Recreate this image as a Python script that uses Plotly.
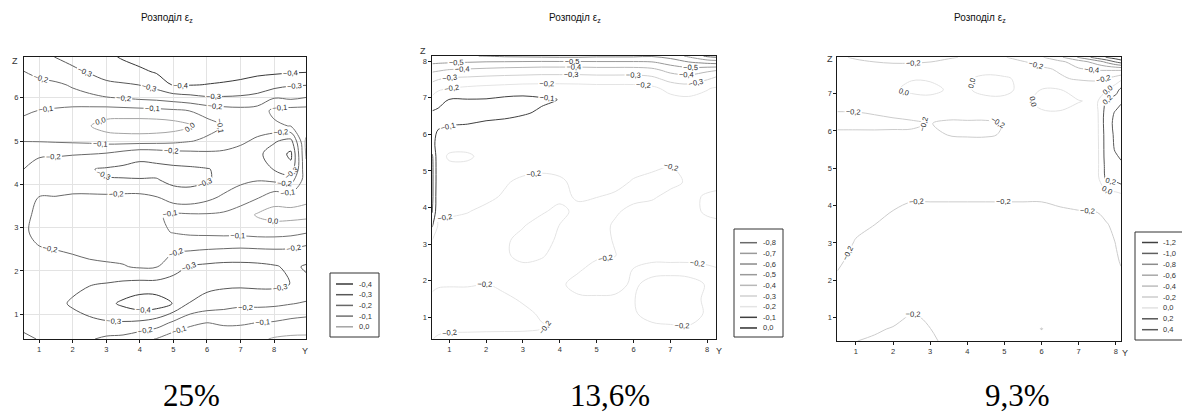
import plotly.graph_objects as go

# ---------------- Panel 1 (25%) ----------------
P1_Y = [0.55, 1.0, 1.5, 2.0, 2.5, 3.0, 3.5, 4.0, 4.5, 5.0, 5.5, 6.0, 6.5, 7.0, 7.5, 8.0, 8.5, 8.95]
P1_Z = [0.43, 0.8, 1.25, 1.7, 2.1, 2.5, 2.9, 3.3, 3.7, 4.1, 4.35, 4.7, 5.0, 5.35, 5.7, 6.0, 6.3, 6.6, 6.94]
P1_EPS = [
    [-0.18, -0.205, -0.215, -0.22, -0.21, -0.18, -0.17, -0.13, -0.095, -0.04, -0.03, -0.05, -0.05, -0.04, -0.02, 0.01, 0.02, 0.02],
    [-0.23, -0.24, -0.25, -0.27, -0.28, -0.29, -0.29, -0.28, -0.25, -0.18, -0.12, -0.098, -0.11, -0.11, -0.098, -0.09, -0.07, -0.06],
    [-0.25, -0.26, -0.28, -0.31, -0.34, -0.37, -0.42, -0.46, -0.455, -0.395, -0.295, -0.26, -0.24, -0.22, -0.225, -0.22, -0.205, -0.19],
    [-0.25, -0.26, -0.27, -0.28, -0.295, -0.305, -0.32, -0.33, -0.33, -0.33, -0.34, -0.33, -0.32, -0.32, -0.325, -0.325, -0.298, -0.28],
    [-0.24, -0.24, -0.235, -0.225, -0.215, -0.21, -0.205, -0.19, -0.195, -0.27, -0.305, -0.32, -0.33, -0.33, -0.325, -0.31, -0.28, -0.31],
    [-0.23, -0.205, -0.199, -0.19, -0.18, -0.175, -0.17, -0.165, -0.17, -0.18, -0.19, -0.199, -0.205, -0.21, -0.205, -0.201, -0.205, -0.23],
    [-0.21, -0.18, -0.17, -0.165, -0.16, -0.155, -0.15, -0.14, -0.12, -0.095, -0.08, -0.075, -0.07, -0.07, -0.06, -0.06, -0.07, -0.09],
    [-0.22, -0.18, -0.165, -0.16, -0.155, -0.15, -0.145, -0.14, -0.11, -0.085, -0.09, -0.092, -0.085, -0.05, 0.01, 0.035, 0.035, 0.03],
    [-0.22, -0.199, -0.198, -0.19, -0.185, -0.18, -0.175, -0.175, -0.195, -0.26, -0.27, -0.23, -0.18, -0.15, -0.11, -0.04, -0.05, -0.02],
    [-0.215, -0.22, -0.23, -0.24, -0.26, -0.295, -0.295, -0.295, -0.295, -0.32, -0.32, -0.31, -0.27, -0.22, -0.205, -0.22, -0.24, -0.05],
    [-0.201, -0.23, -0.245, -0.26, -0.295, -0.31, -0.32, -0.33, -0.325, -0.32, -0.315, -0.305, -0.28, -0.26, -0.26, -0.305, -0.37, -0.02],
    [-0.15, -0.19, -0.19, -0.195, -0.198, -0.21, -0.24, -0.27, -0.26, -0.24, -0.23, -0.22, -0.22, -0.24, -0.28, -0.34, -0.42, 0.01],
    [-0.098, -0.095, -0.09, -0.085, -0.08, -0.065, -0.06, -0.06, -0.065, -0.075, -0.095, -0.12, -0.15, -0.18, -0.22, -0.29, -0.33, 0.02],
    [-0.08, -0.07, -0.055, -0.035, -0.005, 0.045, 0.06, 0.065, 0.06, 0.045, 0.012, -0.06, -0.105, -0.13, -0.15, -0.12, -0.095, -0.06],
    [-0.11, -0.098, -0.085, -0.07, -0.065, -0.06, -0.065, -0.07, -0.075, -0.085, -0.102, -0.14, -0.16, -0.17, -0.16, -0.075, -0.06, -0.06],
    [-0.14, -0.15, -0.16, -0.17, -0.18, -0.195, -0.205, -0.22, -0.23, -0.25, -0.27, -0.29, -0.29, -0.285, -0.27, -0.205, -0.22, -0.198],
    [-0.17, -0.18, -0.185, -0.21, -0.24, -0.28, -0.29, -0.302, -0.34, -0.41, -0.405, -0.398, -0.39, -0.38, -0.36, -0.34, -0.31, -0.305],
    [-0.198, -0.22, -0.25, -0.28, -0.31, -0.34, -0.36, -0.38, -0.41, -0.43, -0.44, -0.44, -0.44, -0.43, -0.42, -0.415, -0.41, -0.405],
    [-0.27, -0.28, -0.302, -0.33, -0.36, -0.38, -0.41, -0.44, -0.46, -0.47, -0.47, -0.47, -0.47, -0.46, -0.46, -0.45, -0.45, -0.45],
]
P1_LEVELS = [-0.4, -0.3, -0.2, -0.1, 0.0]
P1_COLORS = ['#383838', '#585858', '#686868', '#707070', '#a4a4a4']

# ---------------- Panel 2 (13,6%) ----------------
P2_Y = [0.54, 0.7, 1.0, 1.5, 2.0, 2.5, 3.0, 3.5, 4.0, 4.5, 5.0, 5.5, 6.0, 6.5, 7.0, 7.5, 8.0, 8.24]
P2_Z = [0.41, 0.75, 1.1, 1.5, 1.9, 2.3, 2.7, 3.1, 3.5, 3.9, 4.3, 4.7, 5.1, 5.4, 5.8, 6.2, 6.6, 6.95, 7.25, 7.5, 7.75, 7.95, 8.14]
P2_EPS = [
    [-0.199, -0.205, -0.21, -0.212, -0.214, -0.215, -0.213, -0.21, -0.208, -0.21, -0.21, -0.21, -0.21, -0.21, -0.21, -0.21, -0.21, -0.21],
    [-0.19, -0.19, -0.19, -0.19, -0.19, -0.19, -0.192, -0.197, -0.205, -0.21, -0.21, -0.21, -0.21, -0.205, -0.203, -0.201, -0.21, -0.21],
    [-0.19, -0.185, -0.18, -0.18, -0.18, -0.185, -0.19, -0.205, -0.21, -0.21, -0.21, -0.205, -0.203, -0.19, -0.185, -0.19, -0.203, -0.21],
    [-0.19, -0.19, -0.185, -0.185, -0.185, -0.192, -0.205, -0.21, -0.21, -0.205, -0.205, -0.205, -0.201, -0.19, -0.185, -0.19, -0.205, -0.21],
    [-0.21, -0.203, -0.203, -0.203, -0.199, -0.21, -0.21, -0.21, -0.205, -0.19, -0.185, -0.19, -0.205, -0.19, -0.185, -0.19, -0.202, -0.21],
    [-0.22, -0.215, -0.215, -0.215, -0.21, -0.21, -0.21, -0.21, -0.205, -0.203, -0.19, -0.19, -0.201, -0.21, -0.21, -0.21, -0.205, -0.202],
    [-0.22, -0.215, -0.215, -0.215, -0.21, -0.205, -0.19, -0.197, -0.21, -0.21, -0.205, -0.201, -0.19, -0.19, -0.19, -0.19, -0.19, -0.19],
    [-0.205, -0.215, -0.215, -0.215, -0.215, -0.205, -0.19, -0.19, -0.205, -0.21, -0.21, -0.198, -0.185, -0.185, -0.185, -0.185, -0.185, -0.185],
    [-0.09, -0.21, -0.215, -0.215, -0.215, -0.21, -0.202, -0.185, -0.201, -0.21, -0.215, -0.195, -0.185, -0.185, -0.185, -0.185, -0.19, -0.19],
    [0.01, -0.19, -0.19, -0.198, -0.21, -0.21, -0.21, -0.205, -0.19, -0.21, -0.215, -0.205, -0.19, -0.185, -0.185, -0.19, -0.205, -0.21],
    [0.02, -0.18, -0.185, -0.19, -0.19, -0.205, -0.215, -0.215, -0.21, -0.195, -0.199, -0.205, -0.21, -0.205, -0.19, -0.19, -0.205, -0.21],
    [0.02, -0.17, -0.18, -0.185, -0.19, -0.195, -0.21, -0.215, -0.206, -0.19, -0.185, -0.19, -0.203, -0.21, -0.21, -0.195, -0.185, -0.185],
    [0.02, -0.17, -0.185, -0.185, -0.18, -0.18, -0.185, -0.19, -0.19, -0.185, -0.185, -0.185, -0.19, -0.195, -0.202, -0.19, -0.185, -0.185],
    [0.01, -0.17, -0.21, -0.21, -0.18, -0.18, -0.18, -0.18, -0.18, -0.18, -0.18, -0.18, -0.18, -0.185, -0.19, -0.185, -0.18, -0.18],
    [-0.06, -0.15, -0.165, -0.17, -0.17, -0.17, -0.17, -0.17, -0.17, -0.175, -0.175, -0.175, -0.175, -0.175, -0.175, -0.175, -0.175, -0.175],
    [-0.07, -0.09, -0.102, -0.105, -0.115, -0.125, -0.14, -0.155, -0.16, -0.165, -0.17, -0.17, -0.17, -0.17, -0.17, -0.17, -0.17, -0.17],
    [-0.09, -0.085, -0.08, -0.08, -0.08, -0.08, -0.09, -0.11, -0.13, -0.15, -0.16, -0.16, -0.16, -0.16, -0.16, -0.16, -0.16, -0.16],
    [-0.17, -0.13, -0.098, -0.097, -0.095, -0.08, -0.075, -0.088, -0.102, -0.13, -0.14, -0.14, -0.14, -0.15, -0.17, -0.18, -0.175, -0.17],
    [-0.25, -0.22, -0.199, -0.18, -0.17, -0.16, -0.15, -0.15, -0.15, -0.155, -0.16, -0.16, -0.16, -0.175, -0.23, -0.25, -0.205, -0.19],
    [-0.32, -0.302, -0.28, -0.27, -0.26, -0.255, -0.25, -0.245, -0.245, -0.245, -0.25, -0.25, -0.25, -0.265, -0.33, -0.35, -0.305, -0.26],
    [-0.42, -0.41, -0.39, -0.38, -0.37, -0.36, -0.355, -0.35, -0.35, -0.35, -0.355, -0.355, -0.355, -0.37, -0.43, -0.45, -0.42, -0.405],
    [-0.51, -0.505, -0.498, -0.49, -0.48, -0.475, -0.47, -0.465, -0.465, -0.465, -0.47, -0.47, -0.47, -0.48, -0.53, -0.58, -0.61, -0.62],
    [-0.58, -0.585, -0.59, -0.597, -0.602, -0.615, -0.62, -0.625, -0.63, -0.63, -0.62, -0.62, -0.62, -0.61, -0.64, -0.72, -0.82, -0.84],
]
P2_LEVELS = [-0.8, -0.7, -0.6, -0.5, -0.4, -0.3, -0.2, -0.1, 0.0]
P2_COLORS = ['#6a6a6a', '#9a9a9a', '#8a8a8a', '#9a9a9a', '#b8b8b8', '#d0d0d0', '#e4e4e4', '#404040', '#303030']

# ---------------- Panel 3 (9,3%) ----------------
P3_Y = [0.5, 1.0, 1.5, 2.0, 2.5, 3.0, 3.5, 4.0, 4.5, 5.0, 5.5, 6.0, 6.5, 7.0, 7.5, 7.75, 8.0, 8.14]
P3_Z = [0.375, 0.7, 1.0, 1.5, 2.0, 2.5, 3.0, 3.5, 3.9, 4.3, 4.7, 5.1, 5.5, 5.9, 6.2, 6.5, 6.8, 7.1, 7.4, 7.65, 7.85, 7.97]
P3_EPS = [
    [-0.21, -0.201, -0.19, -0.18, -0.17, -0.185, -0.22, -0.24, -0.24, -0.24, -0.24, -0.24, -0.24, -0.24, -0.24, -0.24, -0.24, -0.24],
    [-0.22, -0.215, -0.21, -0.195, -0.17, -0.199, -0.23, -0.245, -0.25, -0.25, -0.25, -0.41, -0.25, -0.245, -0.24, -0.24, -0.24, -0.24],
    [-0.23, -0.23, -0.225, -0.22, -0.19, -0.21, -0.235, -0.25, -0.25, -0.25, -0.25, -0.25, -0.25, -0.25, -0.245, -0.24, -0.24, -0.24],
    [-0.23, -0.235, -0.235, -0.235, -0.23, -0.235, -0.24, -0.25, -0.25, -0.25, -0.25, -0.25, -0.25, -0.25, -0.245, -0.24, -0.24, -0.235],
    [-0.21, -0.235, -0.24, -0.24, -0.24, -0.24, -0.245, -0.245, -0.245, -0.245, -0.245, -0.245, -0.245, -0.245, -0.24, -0.24, -0.23, -0.215],
    [-0.19, -0.22, -0.235, -0.24, -0.24, -0.24, -0.24, -0.24, -0.24, -0.24, -0.24, -0.24, -0.24, -0.24, -0.235, -0.23, -0.21, -0.195],
    [-0.17, -0.205, -0.23, -0.235, -0.24, -0.24, -0.24, -0.24, -0.24, -0.24, -0.24, -0.24, -0.24, -0.24, -0.235, -0.23, -0.198, -0.18],
    [-0.16, -0.185, -0.199, -0.22, -0.235, -0.24, -0.24, -0.24, -0.24, -0.24, -0.24, -0.24, -0.235, -0.23, -0.22, -0.205, -0.18, -0.16],
    [-0.15, -0.17, -0.185, -0.198, -0.22, -0.22, -0.22, -0.22, -0.22, -0.22, -0.22, -0.22, -0.205, -0.198, -0.195, -0.17, -0.15, -0.15],
    [-0.15, -0.16, -0.17, -0.175, -0.18, -0.18, -0.18, -0.18, -0.18, -0.18, -0.18, -0.18, -0.175, -0.15, -0.1, -0.08, -0.05, -0.02],
    [-0.12, -0.12, -0.13, -0.13, -0.13, -0.13, -0.13, -0.13, -0.13, -0.13, -0.13, -0.12, -0.11, -0.1, -0.06, 0.22, 0.25, 0.3],
    [-0.1, -0.1, -0.11, -0.11, -0.11, -0.11, -0.11, -0.11, -0.11, -0.11, -0.11, -0.1, -0.1, -0.1, -0.05, 0.28, 0.33, 0.38],
    [-0.12, -0.12, -0.12, -0.12, -0.12, -0.12, -0.12, -0.12, -0.12, -0.12, -0.11, -0.1, -0.09, -0.08, -0.05, 0.3, 0.42, 0.45],
    [-0.17, -0.17, -0.175, -0.175, -0.18, -0.17, -0.205, -0.215, -0.215, -0.19, -0.12, -0.1, -0.1, -0.09, -0.04, 0.3, 0.44, 0.47],
    [-0.24, -0.24, -0.235, -0.23, -0.22, -0.195, -0.23, -0.23, -0.23, -0.195, -0.15, -0.08, -0.07, -0.07, -0.04, 0.32, 0.45, 0.48],
    [-0.205, -0.202, -0.19, -0.17, -0.15, -0.13, -0.13, -0.12, -0.12, -0.1, -0.05, -0.01, -0.005, -0.03, -0.03, 0.3, 0.42, 0.45],
    [-0.1, -0.1, -0.08, -0.06, -0.04, -0.03, -0.05, -0.06, -0.03, -0.03, -0.03, 0.03, 0.03, 0.005, -0.02, 0.22, 0.3, 0.38],
    [-0.1, -0.1, -0.08, -0.01, 0.02, 0.025, -0.01, -0.01, 0.03, 0.03, -0.03, 0.003, 0.005, -0.06, -0.04, -0.02, 0.12, 0.25],
    [-0.12, -0.13, -0.13, -0.1, -0.005, -0.01, -0.07, -0.02, 0.04, 0.03, -0.05, -0.12, -0.18, -0.22, -0.24, -0.19, -0.12, -0.05],
    [-0.12, -0.14, -0.15, -0.16, -0.155, -0.15, -0.13, -0.1, -0.06, -0.1, -0.13, -0.17, -0.22, -0.38, -0.42, -0.43, -0.44, -0.45],
    [-0.15, -0.18, -0.201, -0.21, -0.21, -0.202, -0.18, -0.16, -0.15, -0.15, -0.19, -0.26, -0.36, -0.5, -0.7, -0.85, -1.02, -1.1],
    [-0.18, -0.215, -0.23, -0.24, -0.24, -0.23, -0.21, -0.19, -0.18, -0.19, -0.27, -0.38, -0.56, -0.82, -1.1, -1.21, -1.3, -1.35],
]
P3_LEVELS = [-1.2, -1.0, -0.8, -0.6, -0.4, -0.2, 0.0, 0.2, 0.4]
P3_COLORS = ['#404040', '#606060', '#8c8c8c', '#a8a8a8', '#bdbdbd', '#cccccc', '#e2e2e2', '#555555', '#5a5a5a']

TITLE = 'Розподіл ε<sub>z</sub>'
PERCENTS = ['25%', '13,6%', '9,3%']

W, H = 1182, 412
FONT = 'Liberation Sans, Arial, sans-serif'
LABEL_COLOR = '#2a2a2a'
# plotly spaces contour labels by (plot diagonal) / (number of levels in the trace / 10);
# extra levels far outside the data range add no lines but allow denser labels
LABEL_SLOTS = 110
SLOT_STEP = 5.0


def fx(p):
    return p / W


def fy(p):
    return 1 - p / H


def fmt(v):
    return ('%.1f' % v).replace('.', ',')


panels = [
    dict(Y=P1_Y, Z=P1_Z, E=P1_EPS, lev=P1_LEVELS, col=P1_COLORS,
         xr=[0.55, 8.95], yr=[0.43, 6.94], px=(24, 306), py=(57, 339),
         xt=list(range(1, 9)), yt=list(range(1, 7)), grid=True,
         title_x=167, pct_x=191, zlab=(15, 61), ylab=(305, 351),
         leg_box=(330, 379, 273, 337), leg_y0=284.0, leg_dy=10.7, leg_line=(336, 353), leg_text=356.5),
    dict(Y=P2_Y, Z=P2_Z, E=P2_EPS, lev=P2_LEVELS, col=P2_COLORS,
         xr=[0.54, 8.24], yr=[0.41, 8.14], px=(432.3, 716), py=(56, 339),
         xt=list(range(1, 9)), yt=list(range(1, 9)), grid=False,
         title_x=575, pct_x=610, zlab=(423, 51), ylab=(718.5, 351),
         leg_box=(734, 783, 229, 337), leg_y0=242.7, leg_dy=10.66, leg_line=(740, 757), leg_text=760.5),
    dict(Y=P3_Y, Z=P3_Z, E=P3_EPS, lev=P3_LEVELS, col=P3_COLORS,
         xr=[0.5, 8.14], yr=[0.375, 7.97], px=(837.3, 1121), py=(57.3, 341),
         xt=list(range(1, 9)), yt=list(range(1, 8)), grid=False,
         title_x=980, pct_x=1017, zlab=(829.5, 59), ylab=(1124.5, 352.5),
         leg_box=(1135, 1186, 232, 340), leg_y0=242.5, leg_dy=10.9, leg_line=(1142, 1158), leg_text=1161),
]

fig = go.Figure()
layout = dict(width=W, height=H, margin=dict(l=0, r=0, t=0, b=0),
              paper_bgcolor='white', plot_bgcolor='white', showlegend=False,
              separators=', ', font=dict(family=FONT, color='#222'))
annotations = []
shapes = []

for i, p in enumerate(panels):
    sfx = '' if i == 0 else str(i + 1)
    xa, ya = 'x' + sfx, 'y' + sfx
    for lev, c in zip(p['lev'], p['col']):
        fig.add_trace(go.Contour(
            x=p['Y'], y=p['Z'], z=p['E'], xaxis=xa, yaxis=ya,
            autocontour=False,
            colorscale=[[0, LABEL_COLOR], [1, LABEL_COLOR]],
            contours=dict(start=lev, end=lev + SLOT_STEP * (LABEL_SLOTS - 1), size=SLOT_STEP,
                          coloring='none', showlabels=True,
                          labelfont=dict(size=7.5, color=LABEL_COLOR, family=FONT),
                          labelformat='.1f'),
            line=dict(color=c, width=1, smoothing=1),
            showscale=False, hoverinfo='skip'))
    axis_common = dict(showline=True, linecolor='#1a1a1a', linewidth=1, mirror=True,
                       ticks='outside', ticklen=3, tickcolor='#1a1a1a', zeroline=False,
                       tickfont=dict(size=7.5, color='#333', family=FONT),
                       showgrid=p['grid'], gridcolor='#e3e3e3', gridwidth=1)
    layout['xaxis' + sfx] = dict(axis_common, domain=[fx(p['px'][0]), fx(p['px'][1])],
                                 range=p['xr'], tickvals=p['xt'], anchor=ya)
    layout['yaxis' + sfx] = dict(axis_common, domain=[fy(p['py'][1]), fy(p['py'][0])],
                                 range=p['yr'], tickvals=p['yt'], anchor=xa)
    annotations.append(dict(xref='paper', yref='paper', x=fx(p['title_x']), y=fy(18),
                            text=TITLE, showarrow=False, xanchor='center', yanchor='middle',
                            font=dict(size=10, color='#111', family=FONT)))
    annotations.append(dict(xref='paper', yref='paper', x=fx(p['pct_x']), y=fy(395),
                            text=PERCENTS[i], showarrow=False, xanchor='center', yanchor='middle',
                            font=dict(size=31, color='#000', family='Liberation Serif, Times New Roman, serif')))
    annotations.append(dict(xref='paper', yref='paper', x=fx(p['zlab'][0]), y=fy(p['zlab'][1]),
                            text='Z', showarrow=False, xanchor='center', yanchor='middle',
                            font=dict(size=9, color='#333', family=FONT)))
    annotations.append(dict(xref='paper', yref='paper', x=fx(p['ylab'][0]), y=fy(p['ylab'][1]),
                            text='Y', showarrow=False, xanchor='center', yanchor='middle',
                            font=dict(size=9, color='#333', family=FONT)))
    bx0, bx1, by0, by1 = p['leg_box']
    shapes.append(dict(type='rect', xref='paper', yref='paper', x0=fx(bx0), x1=fx(bx1),
                       y0=fy(by1), y1=fy(by0), line=dict(color='#333', width=1),
                       fillcolor='white', layer='above'))
    for k, (lev, c) in enumerate(zip(p['lev'], p['col'])):
        yy = p['leg_y0'] + k * p['leg_dy']
        shapes.append(dict(type='line', xref='paper', yref='paper',
                           x0=fx(p['leg_line'][0]), x1=fx(p['leg_line'][1]),
                           y0=fy(yy), y1=fy(yy), line=dict(color=c, width=1.5), layer='above'))
        annotations.append(dict(xref='paper', yref='paper', x=fx(p['leg_text']), y=fy(yy),
                                text=fmt(lev), showarrow=False, xanchor='left', yanchor='middle',
                                font=dict(size=7.5, color='#333', family=FONT)))

layout['annotations'] = annotations
layout['shapes'] = shapes
fig.update_layout(**layout)
fig.write_html('out.html')
